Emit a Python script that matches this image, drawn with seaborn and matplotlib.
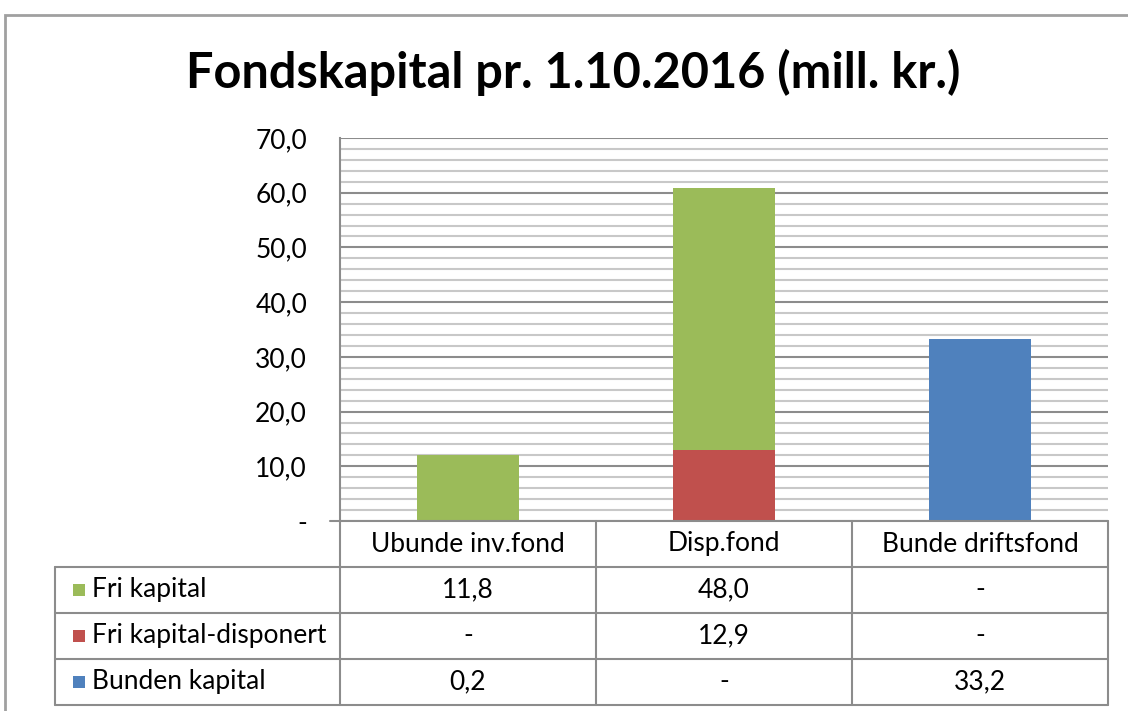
import matplotlib
matplotlib.use("Agg")
import matplotlib.pyplot as plt
import seaborn as sns
import pandas as pd
from matplotlib.lines import Line2D
from matplotlib.patches import Rectangle

categories = ["Ubunde inv.fond", "Disp.fond", "Bunde driftsfond"]
series = ["Fri kapital", "Fri kapital-disponert", "Bunden kapital"]
fri = [11.8, 48.0, 0.0]
disponert = [0.0, 12.9, 0.0]
bunden = [0.2, 0.0, 33.2]
colors = ["#9BBB59", "#C0504D", "#4F81BD"]
yticks = [0, 10, 20, 30, 40, 50, 60, 70]

sns.set_style("white")
plt.rcParams["font.family"] = ["Lato", "DejaVu Sans"]
plt.rcParams["text.color"] = "black"
fs = 19

W, H = 1128, 711
fig = plt.figure(figsize=(W / 100, H / 100), dpi=100)


def fx(x):
    return x / W


def fy(y):
    return 1 - y / H


ax_l, ax_r, ax_t, ax_b = 340, 1108, 138, 521
ax = fig.add_axes([fx(ax_l), fy(ax_b), fx(ax_r - ax_l), (ax_b - ax_t) / H])

# stacked: bunden at bottom, then disponert, then fri on top
df = pd.DataFrame({"kategori": categories, "fri": fri, "disp": disponert, "bunden": bunden})
df["top3"] = df["fri"] + df["disp"] + df["bunden"]
df["top2"] = df["disp"] + df["bunden"]
for col, c in [("top3", colors[0]), ("top2", colors[1]), ("bunden", colors[2])]:
    sns.barplot(data=df, x="kategori", y=col, color=c, width=0.4, saturation=1,
                edgecolor="none", ax=ax)

ax.set_xlim(-0.5, 2.5)
ax.set_ylim(0, 70)
ax.set_xlabel("")
ax.set_ylabel("")
ax.set_xticks([])
ax.set_yticks(yticks)
ax.set_yticklabels(["-"] + [f"{v:.1f}".replace(".", ",") for v in yticks[1:]], fontsize=fs,
                   color="black")
ax.set_yticks(range(0, 71, 2), minor=True)
ax.tick_params(axis="y", which="major", direction="out", length=7.2, width=1.5,
               color="#8c8c8c", pad=16.5)
ax.tick_params(axis="y", which="minor", length=0)
ax.grid(axis="y", which="minor", color="#c8c8c8", lw=1.5)
ax.grid(axis="y", which="major", color="#8c8c8c", lw=1.5)
ax.set_axisbelow(True)
for s in ["top", "right", "bottom"]:
    ax.spines[s].set_visible(False)
ax.spines["left"].set_color("#8c8c8c")
ax.spines["left"].set_linewidth(1.5)

fig.text(fx(573), fy(72), "Fondskapital pr. 1.10.2016 (mill. kr.)", ha="center",
         va="center", fontsize=35, fontweight="bold")

# outer chart frame
fig.add_artist(Rectangle((fx(5), fy(760)), fx(1200), (760 - 15) / H, fill=False,
                         edgecolor="#a0a0a0", lw=2, transform=fig.transFigure))

# data table
lc = "#8c8c8c"
col_x = [55, 340, 596, 852, 1108]
row_y = [521, 567, 613, 659, 705]


def line(x0, y0, x1, y1):
    fig.add_artist(Line2D([fx(x0), fx(x1)], [fy(y0), fy(y1)], color=lc, lw=1.5,
                          transform=fig.transFigure))


line(330, row_y[0], col_x[-1], row_y[0])
for y in row_y[1:]:
    line(col_x[0], y, col_x[-1], y)
line(col_x[0], row_y[1], col_x[0], row_y[-1])
for x in col_x[1:]:
    line(x, row_y[0], x, row_y[-1])

for i, cat in enumerate(categories):
    cx = (col_x[i + 1] + col_x[i + 2]) / 2
    fig.text(fx(cx), fy((row_y[0] + row_y[1]) / 2), cat, ha="center", va="center", fontsize=fs)


def fmt(v):
    return "-" if v == 0 else f"{v:.1f}".replace(".", ",")


for r, (name, vals, c) in enumerate(zip(series, [fri, disponert, bunden], colors)):
    cy = (row_y[r + 1] + row_y[r + 2]) / 2
    fig.add_artist(Rectangle((fx(73), fy(cy + 6)), fx(12), 12 / H, facecolor=c,
                             edgecolor="none", transform=fig.transFigure))
    fig.text(fx(92), fy(cy), name, ha="left", va="center", fontsize=fs)
    for i, v in enumerate(vals):
        cx = (col_x[i + 1] + col_x[i + 2]) / 2
        fig.text(fx(cx), fy(cy), fmt(v), ha="center", va="center", fontsize=fs)

fig.savefig("out.png", dpi=100)
